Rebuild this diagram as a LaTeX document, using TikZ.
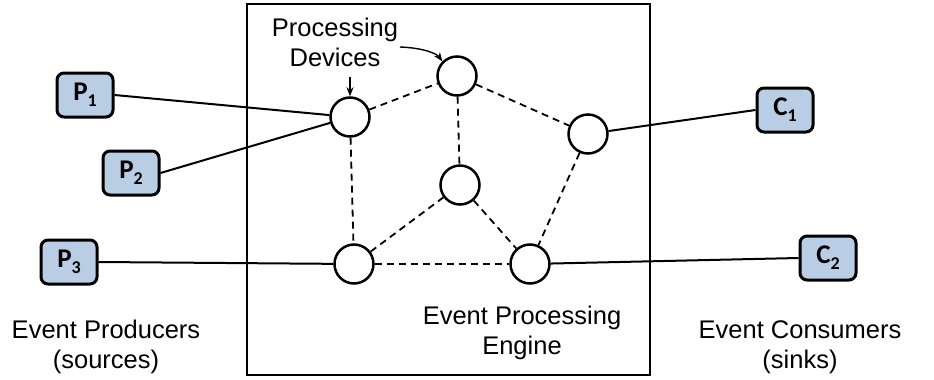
\documentclass[tikz,border=0pt]{standalone}
\usepackage{fontspec}
\setmainfont{Liberation Sans}
\newfontfamily\boxfont{Carlito}
\usetikzlibrary{arrows.meta}
\definecolor{boxblue}{HTML}{B9CDE5}
% endpoint label: letter with a lowered index
\newcommand{\ep}[2]{#1\raisebox{-6pt}{\fontsize{18}{18}\selectfont #2}}
\begin{document}
\begin{tikzpicture}[x=1pt,y=-1pt,
  device/.style={circle,draw,line width=2.5pt,fill=white,minimum size=39pt,inner sep=0pt},
  endpoint/.style={draw,line width=3pt,fill=boxblue,rounded corners=7pt,
    minimum width=56pt,minimum height=44pt,inner sep=0pt,
    font=\boxfont\bfseries\fontsize{27}{27}\selectfont},
  label/.style={align=center,font=\fontsize{25.5}{30}\selectfont,inner sep=0pt},
  link/.style={line width=2pt},
  peer/.style={line width=1.8pt,dash pattern=on 7pt off 5pt},
  pointer/.style={line width=1.4pt,-{Stealth[length=9pt,width=7pt]}}]
\useasboundingbox (0,0) rectangle (934,380);

% processing engine frame
\draw[line width=2.8pt] (247,4) rectangle (650,375);

% processing devices
\node[device] (A) at (350,117) {};
\node[device] (B) at (457,76) {};
\node[device] (C) at (588,134) {};
\node[device] (D) at (460,185) {};
\node[device] (E) at (354,264) {};
\node[device] (F) at (530,264) {};

% producers and consumers
\node[endpoint] (P1) at (85,95) {\ep{P}{1}};
\node[endpoint] (P2) at (131,173) {\ep{P}{2}};
\node[endpoint] (P3) at (69,262) {\ep{P}{3}};
\node[endpoint] (C1) at (785,110) {\ep{C}{1}};
\node[endpoint] (C2) at (828,258) {\ep{C}{2}};

% links between devices
\draw[peer] (A) -- (B);
\draw[peer] (B) -- (C);
\draw[peer] (B) -- (D);
\draw[peer] (A) -- (E);
\draw[peer] (E) -- (D);
\draw[peer] (D) -- (F);
\draw[peer] (E) -- (F);
\draw[peer] (C) -- (F);

% producer and consumer links
\draw[link] (P1.east) -- (A);
\draw[link] (P2.east) -- (A);
\draw[link] (P3.east) -- (E);
\draw[link] (C) -- (C1.west);
\draw[link] (F) -- (C2.west);

% labels
\node[label] (devlbl) at (335,42) {Processing\\Devices};
\coordinate (curvestart) at (400,47);
\draw[pointer] (350,77) -- (A.north);
\draw[pointer] (curvestart) .. controls (425,48) and (437,54) .. (B.north west);
\node[label] (prod) at (106,347) {Event Producers\\(sources)};
\node[label] (eng) at (522,333) {Event Processing\\Engine};
\node[label] (cons) at (800,347) {Event Consumers\\(sinks)};
\end{tikzpicture}
\end{document}
